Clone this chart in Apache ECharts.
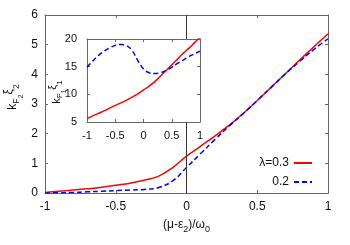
<!DOCTYPE html>
<html><head><meta charset="utf-8">
<script src="https://cdn.jsdelivr.net/npm/echarts@6/dist/echarts.min.js"></script>
<style>html,body{margin:0;padding:0;background:#fff}#c{width:350px;height:245px}</style>
</head><body><div id="c"></div>
<script>
var xValues = [-1,-0.9,-0.8,-0.7,-0.6,-0.5,-0.4,-0.3,-0.2,-0.1,0,0.1,0.2,0.3,0.4,0.5,0.6,0.7,0.8,0.9,1];
var mainRed  = [0.02,0.06,0.10,0.14,0.19,0.26,0.33,0.43,0.56,0.85,1.24,1.58,1.92,2.28,2.68,3.12,3.57,4.03,4.48,4.93,5.37];
var mainBlue = [0.00,0.01,0.02,0.04,0.06,0.08,0.10,0.12,0.18,0.40,0.86,1.33,1.80,2.25,2.67,3.12,3.57,4.02,4.44,4.84,5.20];
var insetRed  = [5.6,6.1,6.55,7.0,7.5,8.0,8.45,8.95,9.5,10.1,10.8,11.5,12.3,13.3,14.3,15.3,16.35,17.4,18.3,19.3,20.3];
var insetBlue = [14.9,16.0,17.0,17.8,18.4,18.85,19.0,18.8,17.9,16.1,14.6,13.9,13.75,13.9,14.3,14.9,15.6,16.2,16.8,17.3,17.8];
var seriesNames = ['λ=0.3','0.2'];
var mainXTicks = {min:-1, max:1, interval:0.5};
var mainYTicks = {min:0, max:6, interval:1};
var insetYTicks = {min:5, max:20, interval:5};
var mainYName = '{n|k}{s|F}{ss|2}{x|ξ}{s|2}';
var insetYName = '{n|k}{s|F}{ss|1}{x|ξ}{s|1}';
var xName = '(μ-ε{s|2})/ω{s|0}';

function zip(xs, ys){ return xs.map(function(x,i){ return [x, ys[i]]; }); }

var FONT = '"Liberation Sans", Arial, Helvetica, sans-serif';
var axisCol = '#666';
function axis(opts){
  var base = {
    type:'value', axisLine:{show:true,onZero:false,lineStyle:{color:axisCol,width:1}},
    axisTick:{show:true,inside:true,length:3,lineStyle:{color:axisCol}},
    splitLine:{show:false}, nameMoveOverlap:false,
    axisLabel:{show:true,color:'#111',fontFamily:FONT,fontSize:12},
  };
  for (var k in opts) base[k]=opts[k];
  return base;
}
var hidden = {show:false};

function f(px){ return px.toFixed(1)+'px '+FONT; }
var nameRich = function(fs){
  return {
    n:{font:f(fs),fill:'#111',lineHeight:fs*2,verticalAlign:'middle'},
    s:{font:f(fs*0.72),fill:'#111',lineHeight:fs*0.72,verticalAlign:'bottom',padding:[0,0,fs*0.35,0]},
    ss:{font:f(fs*0.6),fill:'#111',lineHeight:fs*0.6,verticalAlign:'bottom'},
    x:{font:f(fs),fill:'#111',lineHeight:fs,verticalAlign:'top',padding:[fs*0.15,0,0,0]}
  };
};

var legendCommon = {orient:'vertical', align:'right', padding:0, itemWidth:18, itemHeight:10, itemGap:0,
  itemStyle:{opacity:0}, textStyle:{fontSize:12,color:'#111',fontFamily:FONT}};
function legend(name, top){
  var o = {data:[name], right:37, top:top};
  for (var k in legendCommon) o[k]=legendCommon[k];
  return o;
}
function yName(text, x, y, fs){
  return {type:'text', x:x, y:y, rotation:Math.PI/2, silent:true,
    style:{text:text, rich:nameRich(fs), align:'center', verticalAlign:'middle', fill:'#111'}};
}

var chart = echarts.init(document.getElementById('c'), null, {renderer:'canvas'});
chart.setOption({
  animation:false,
  backgroundColor:'#fff',
  textStyle:{fontFamily:FONT},
  grid:[
    {left:45, right:22, top:15, bottom:52, containLabel:false},
    {left:87, top:39, width:113, height:83, show:true, backgroundColor:'#fff', borderWidth:0, zlevel:1}
  ],
  legend:[ legend(seriesNames[0], 157), legend(seriesNames[1], 176) ],
  graphic:[ yName(mainYName, 13, 97, 12), yName(insetYName, 57, 92, 11) ],
  xAxis:[
    axis({gridIndex:0, position:'bottom', min:mainXTicks.min, max:mainXTicks.max, interval:mainXTicks.interval,
      axisLabel:{color:'#111',fontFamily:FONT,fontSize:12,margin:8},
      name:xName, nameLocation:'middle', nameGap:26,
      nameTextStyle:{fontSize:12,color:'#111',fontFamily:FONT,rich:{s:{fontSize:9,fontFamily:FONT,color:'#111',verticalAlign:'bottom',lineHeight:9,padding:[0,0,-3,0]}}}}),
    axis({gridIndex:0, position:'top', min:mainXTicks.min, max:mainXTicks.max, interval:mainXTicks.interval, axisLabel:hidden}),
    axis({gridIndex:1, position:'bottom', min:mainXTicks.min, max:mainXTicks.max, interval:mainXTicks.interval, zlevel:1,
      axisLabel:{color:'#111',fontFamily:FONT,fontSize:11,margin:8}}),
    axis({gridIndex:1, position:'top', min:mainXTicks.min, max:mainXTicks.max, interval:mainXTicks.interval, zlevel:1, axisLabel:hidden})
  ],
  yAxis:[
    axis({gridIndex:0, position:'left', min:mainYTicks.min, max:mainYTicks.max, interval:mainYTicks.interval,
      axisLabel:{color:'#111',fontFamily:FONT,fontSize:12,margin:7}}),
    axis({gridIndex:0, position:'right', min:mainYTicks.min, max:mainYTicks.max, interval:mainYTicks.interval, axisLabel:hidden}),
    axis({gridIndex:1, position:'left', min:insetYTicks.min, max:insetYTicks.max, interval:insetYTicks.interval, zlevel:1,
      axisLabel:{color:'#111',fontFamily:FONT,fontSize:11,margin:10}}),
    axis({gridIndex:1, position:'right', min:insetYTicks.min, max:insetYTicks.max, interval:insetYTicks.interval, zlevel:1, axisLabel:hidden})
  ],
  series:[
    {name:seriesNames[0], type:'line', xAxisIndex:0, yAxisIndex:0, data:zip(xValues, mainRed), smooth:0.4,
     symbol:'none', lineStyle:{color:'#ff0000', width:1.5}, itemStyle:{color:'#ff0000'},
     markLine:{silent:true, symbol:['none','none'], label:{show:false}, animation:false,
       lineStyle:{color:'#333', type:'solid', width:1}, data:[{xAxis:0}]}},
    {name:seriesNames[1], type:'line', xAxisIndex:0, yAxisIndex:0, data:zip(xValues, mainBlue), smooth:0.4,
     symbol:'none', lineStyle:{color:'#0000ff', width:1.5, type:[5,3]}, itemStyle:{color:'#0000ff'}},
    {name:seriesNames[0], type:'line', xAxisIndex:2, yAxisIndex:2, data:zip(xValues, insetRed), smooth:0.4, zlevel:1,
     symbol:'none', lineStyle:{color:'#ff0000', width:1.5}, itemStyle:{color:'#ff0000'}},
    {name:seriesNames[1], type:'line', xAxisIndex:2, yAxisIndex:2, data:zip(xValues, insetBlue), smooth:0.4, zlevel:1,
     symbol:'none', lineStyle:{color:'#0000ff', width:1.5, type:[5,3]}, itemStyle:{color:'#0000ff'}}
  ]
});
</script></body></html>
